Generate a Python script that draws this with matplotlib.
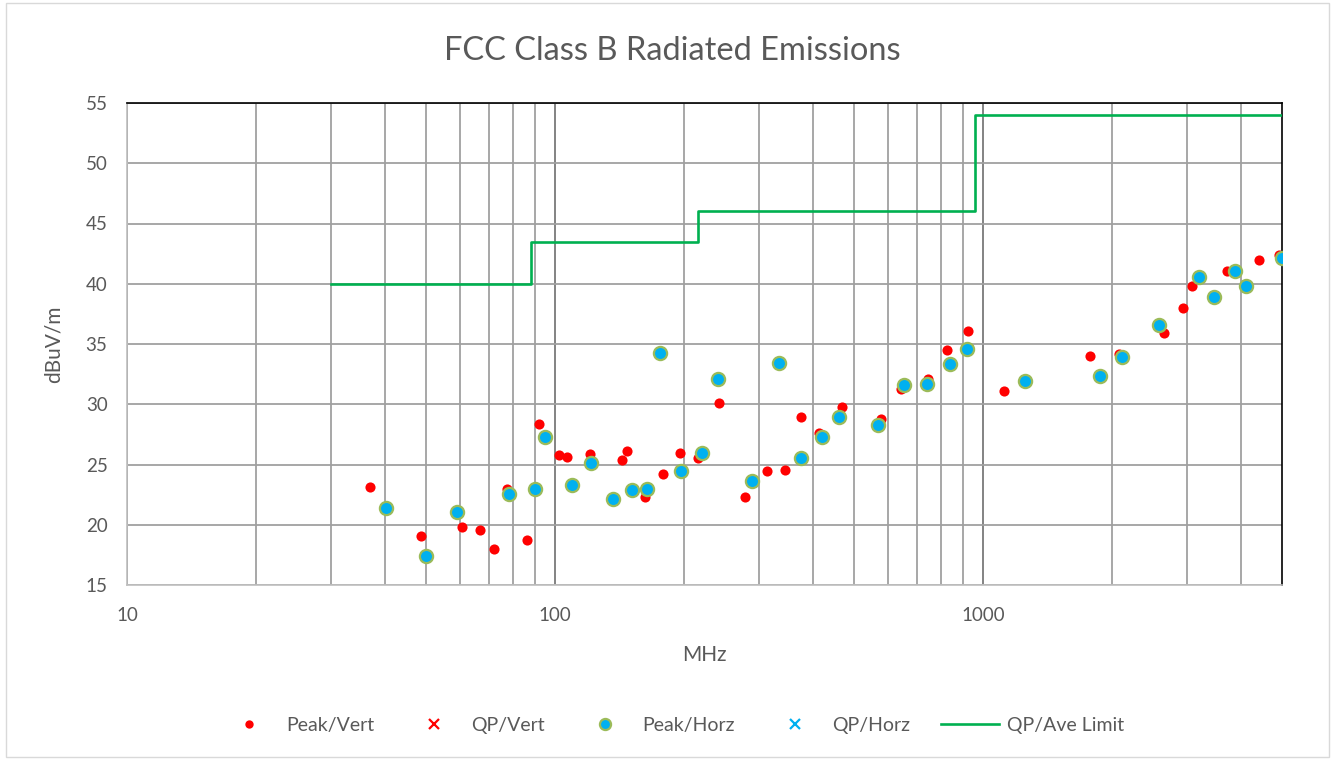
import matplotlib
matplotlib.use("Agg")
import matplotlib.pyplot as plt
from matplotlib.ticker import FixedLocator, NullFormatter
from matplotlib.lines import Line2D
from matplotlib.patches import Rectangle

plt.rcParams['font.family'] = ['Lato', 'DejaVu Sans']

# Peak / Vertical
pv_freq = [37.0, 48.6, 60.6, 66.8, 72.1, 77.3, 86.1, 91.6, 102.3, 106.8, 120.9, 143.4, 147.6,
           162.3, 178.8, 195.6, 216.2, 242.1, 277.9, 312.3, 344.1, 376.3, 413.9, 468.4, 576.8,
           643.4, 743.9, 825.3, 924.1, 1117.8, 1775.5, 2078, 2652, 2938, 3083, 3723, 4408, 4917]
pv_level = [23.16, 19.07, 19.8, 19.56, 17.96, 23.0, 18.73, 28.34, 25.76, 25.62, 25.9, 25.4, 26.1,
            22.33, 24.19, 25.95, 25.51, 30.13, 22.33, 24.46, 24.57, 28.94, 27.64, 29.8, 28.78,
            31.27, 32.07, 34.48, 36.08, 31.07, 33.98, 34.2, 35.94, 37.99, 39.79, 41.08, 41.95, 42.39]

# Peak / Horizontal
ph_freq = [40.4, 49.96, 59.0, 78.2, 89.9, 94.9, 109.7, 121.1, 136.8, 151.6, 163.8, 175.9, 197.0,
           220.1, 240.4, 288.1, 333.2, 375.0, 420.6, 461.6, 569.3, 653.8, 739.9, 838.7, 917.7,
           1251.5, 1879, 2109, 2573, 3192, 3460, 3886, 4117, 4989]
ph_level = [21.39, 17.43, 21.06, 22.55, 22.99, 27.26, 23.3, 25.1, 22.14, 22.88, 23.0, 34.28, 24.46,
            25.98, 32.12, 23.61, 33.45, 25.56, 27.26, 28.97, 28.28, 31.62, 31.68, 33.32, 34.59,
            31.93, 32.37, 33.95, 36.6, 40.56, 38.88, 41.08, 39.79, 42.14]

# QP series (no data shown)
qpv_freq, qpv_level = [], []
qph_freq, qph_level = [], []

# QP / Average limit (step)
limit_freq = [30, 88, 216, 960, 5000]
limit_level = [40, 43.5, 46, 54, 54]

W, H = 1335, 760
fig = plt.figure(figsize=(W / 100, H / 100), dpi=100)
fig.patches.append(Rectangle((6 / W, 3 / H), 1 - 12 / W, 1 - 6 / H, transform=fig.transFigure,
                             fill=False, edgecolor='#D9D9D9', linewidth=1.0))

ax = fig.add_axes([127 / W, 1 - 585 / H, (1282 - 127) / W, (585 - 103) / H])
ax.set_xscale('log')
ax.set_xlim(10, 5000)
ax.set_ylim(15, 55)
ax.set_yticks(range(15, 56, 5))

ax.xaxis.set_major_locator(FixedLocator([10, 100, 1000]))
ax.set_xticklabels(['10', '100', '1000'])
minors = [m * d for d in (10, 100, 1000) for m in range(2, 10) if m * d < 5000]
ax.xaxis.set_minor_locator(FixedLocator(minors))
ax.xaxis.set_minor_formatter(NullFormatter())

ax.grid(True, which='major', axis='y', color='#A0A0A0', linewidth=1.3, zorder=0)
ax.grid(True, which='minor', axis='x', color='#A0A0A0', linewidth=1.3, zorder=0)
ax.grid(True, which='major', axis='x', color='#7A7A7A', linewidth=1.3, zorder=0)
ax.set_axisbelow(True)

ax.tick_params(axis='both', which='both', length=0, labelsize=13.5, colors='#595959')
ax.tick_params(axis='x', pad=16)
ax.tick_params(axis='y', pad=14)
for s in ('top', 'right'):
    ax.spines[s].set_color('black')
    ax.spines[s].set_linewidth(1.2)
for s in ('left', 'bottom'):
    ax.spines[s].set_color('#BFBFBF')
    ax.spines[s].set_linewidth(1.2)

ax.step(limit_freq, limit_level, where='post', color='#00B050', linewidth=1.9, zorder=3)
ax.plot(pv_freq, pv_level, linestyle='none', marker='o', markersize=7.3,
        markerfacecolor='#FF0000', markeredgecolor='#FF0000', markeredgewidth=0, zorder=4)
ax.plot(qpv_freq, qpv_level, linestyle='none', marker='x', color='#FF0000', zorder=4)
ax.plot(ph_freq, ph_level, linestyle='none', marker='o', markersize=9.5,
        markerfacecolor='#00B0F0', markeredgecolor='#9BBB59', markeredgewidth=1.6, zorder=5)
ax.plot(qph_freq, qph_level, linestyle='none', marker='x', color='#00B0F0', zorder=5)

fig.text(672 / W, 1 - 51 / H, 'FCC Class B Radiated Emissions', ha='center', va='center',
         fontsize=23.5, color='#595959')
ax.set_xlabel('MHz', fontsize=15, color='#595959', labelpad=15)
ax.set_ylabel('dBuV/m', fontsize=15, color='#595959', labelpad=16)

handles = [
    Line2D([], [], linestyle='none', marker='o', markersize=6, markerfacecolor='#FF0000',
           markeredgewidth=0),
    Line2D([], [], linestyle='none', marker='x', markersize=7, color='#FF0000', markeredgewidth=1.6),
    Line2D([], [], linestyle='none', marker='o', markersize=8, markerfacecolor='#00B0F0',
           markeredgecolor='#9BBB59', markeredgewidth=1.6),
    Line2D([], [], linestyle='none', marker='x', markersize=7, color='#00B0F0', markeredgewidth=1.6),
    Line2D([], [], color='#00B050', linewidth=1.9),
]
labels = ['Peak/Vert', 'QP/Vert', 'Peak/Horz', 'QP/Horz', 'QP/Ave Limit']
leg = fig.legend(handles, labels, loc='center', bbox_to_anchor=(672 / W, 1 - 725 / H), ncol=5,
                 frameon=False, fontsize=14, handlelength=3.0, columnspacing=1.6,
                 handletextpad=0.4, labelcolor='#595959')

fig.savefig('out.png', dpi=100)
